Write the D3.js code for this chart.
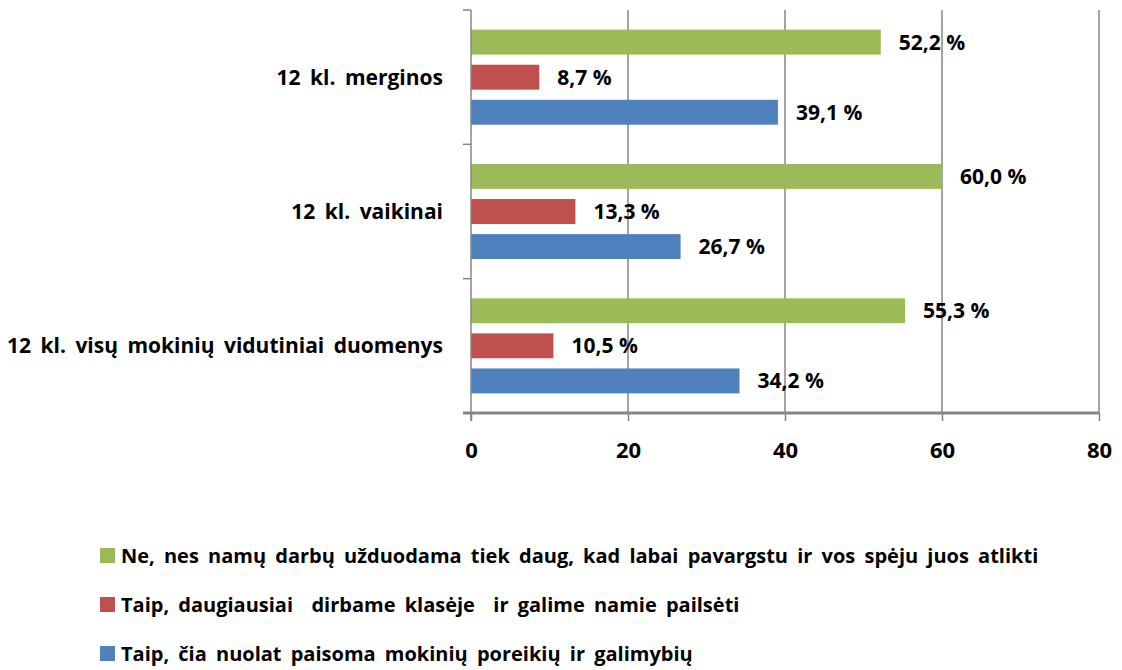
<!DOCTYPE html>
<html lang="lt">
<head>
<meta charset="UTF-8">
<title>12 kl. namų darbai</title>
<script src="https://d3js.org/d3.v7.min.js"></script>
<style>
  body { margin: 0; background: #ffffff; }
  text { font-family: "Open Sans", Lato, sans-serif; font-weight: bold; fill: #000; }
</style>
</head>
<body>
<div id="chart"></div>
<script>
// categories top to bottom
var categories = ["12 kl. merginos", "12 kl. vaikinai", "12 kl. visų mokinių vidutiniai duomenys"];
// series, drawn top to bottom inside each group
var seriesNames = [
  "Ne, nes namų darbų užduodama tiek daug, kad labai pavargstu ir vos spėju juos atlikti",
  "Taip, daugiausiai  dirbame klasėje  ir galime namie pailsėti",
  "Taip, čia nuolat paisoma mokinių poreikių ir galimybių"
];
var seriesColors = ["#9bbb59", "#c0504d", "#4f81bd"];
var greenValues = [52.2, 60.0, 55.3];
var redValues = [8.7, 13.3, 10.5];
var blueValues = [39.1, 26.7, 34.2];
var xTicks = [0, 20, 40, 60, 80];

var allValues = [greenValues, redValues, blueValues];

var W = 1122, H = 670;
var margin = {top: 10, left: 471, right: 23, bottom: 257};
var width = W - margin.left - margin.right,
    height = H - margin.top - margin.bottom;

var svg = d3.select("#chart").append("svg")
  .attr("width", W).attr("height", H);
var g = svg.append("g")
  .attr("transform", "translate(" + margin.left + "," + margin.top + ")");

var x = d3.scaleLinear().domain([0, 80]).range([0, width]);
var y = d3.scaleBand().domain(categories).range([0, height]);
var inner = d3.scaleBand().domain([0, 1, 2]).range([0, y.bandwidth()])
  .paddingInner(0.29).paddingOuter(0.56);

// vertical gridlines
g.selectAll(".grid").data(xTicks.slice(1)).enter().append("line")
  .attr("x1", function(d) { return x(d); }).attr("x2", function(d) { return x(d); })
  .attr("y1", 0).attr("y2", height)
  .attr("stroke", "#868686").attr("stroke-width", 1.5);

// bars
categories.forEach(function(cat, ci) {
  allValues.forEach(function(vals, si) {
    var v = vals[ci];
    var yy = y(cat) + inner(si);
    g.append("rect")
      .attr("x", x(0)).attr("y", yy)
      .attr("width", x(v) - x(0)).attr("height", inner.bandwidth())
      .attr("fill", seriesColors[si]);
    g.append("text")
      .attr("x", x(v) + 18).attr("y", yy + inner.bandwidth() / 2)
      .attr("dy", "0.36em")
      .style("font-size", "21px")
      .text(v.toFixed(1).replace(".", ",") + " %");
  });
});

// left axis with category ticks at band boundaries
g.append("line").attr("x1", 0).attr("x2", 0).attr("y1", 0).attr("y2", height + 8)
  .attr("stroke", "#868686").attr("stroke-width", 1.5);
var bounds = categories.map(function(c) { return y(c); }).concat([height]);
g.selectAll(".ytick").data(bounds).enter().append("line")
  .attr("x1", -8).attr("x2", 0)
  .attr("y1", function(d) { return d; }).attr("y2", function(d) { return d; })
  .attr("stroke", "#868686").attr("stroke-width", 1.5);
g.selectAll(".ylab").data(categories).enter().append("text")
  .attr("x", -28).attr("y", function(d) { return y(d) + y.bandwidth() / 2; })
  .attr("dy", "0.36em").attr("text-anchor", "end")
  .style("font-size", "21px").style("word-spacing", "4px")
  .text(function(d) { return d; });

// bottom axis
var xAxis = g.append("g").attr("transform", "translate(0," + height + ")")
  .call(d3.axisBottom(x).tickValues(xTicks).tickSize(8).tickPadding(21).tickSizeOuter(0));
xAxis.select(".domain").attr("stroke", "#868686").attr("stroke-width", 3)
  .attr("d", "M-8,0H" + width);
xAxis.selectAll(".tick line").attr("stroke", "#868686").attr("stroke-width", 1.5);
xAxis.selectAll(".tick text").style("font-size", "22px")
  .style("font-family", "'Open Sans', Lato, sans-serif").style("font-weight", "bold")
  .attr("fill", "#000");

// legend
var legend = svg.append("g").attr("transform", "translate(100,548)");
seriesNames.forEach(function(name, i) {
  legend.append("rect").attr("x", 0).attr("y", i * 49)
    .attr("width", 15).attr("height", 15).attr("fill", seriesColors[i]);
  legend.append("text").attr("x", 21).attr("y", i * 49 + 8)
    .attr("dy", "0.36em").style("font-size", "20px").style("word-spacing", "4px")
    .style("white-space", "pre")
    .text(name);
});
</script>
</body>
</html>
